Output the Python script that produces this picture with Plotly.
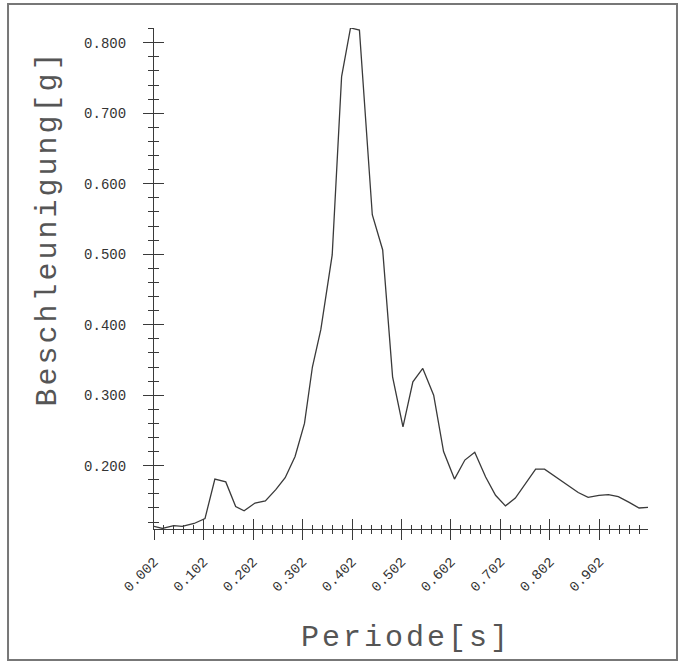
import plotly.graph_objects as go

# Periode [s] and Beschleunigung [g]
periode = [0.002, 0.019, 0.042, 0.059, 0.083, 0.105, 0.125, 0.147, 0.167, 0.184,
           0.206, 0.227, 0.248, 0.267, 0.287, 0.306, 0.322, 0.339, 0.362, 0.381,
           0.399, 0.417, 0.443, 0.464, 0.484, 0.505, 0.525, 0.545, 0.567, 0.587,
           0.609, 0.630, 0.650, 0.672, 0.692, 0.712, 0.732, 0.753, 0.773, 0.791,
           0.812, 0.835, 0.859, 0.879, 0.901, 0.920, 0.940, 0.962, 0.982, 1.000]
beschleunigung = [0.114, 0.111, 0.115, 0.114, 0.118, 0.125, 0.181, 0.177, 0.142, 0.136,
                  0.147, 0.150, 0.166, 0.183, 0.213, 0.260, 0.340, 0.393, 0.499, 0.752,
                  0.821, 0.818, 0.556, 0.506, 0.326, 0.255, 0.319, 0.338, 0.300, 0.220,
                  0.181, 0.208, 0.219, 0.184, 0.158, 0.143, 0.154, 0.175, 0.195, 0.195,
                  0.185, 0.173, 0.162, 0.155, 0.158, 0.159, 0.156, 0.148, 0.140, 0.141]

x_title = "Periode[s]"
y_title = "Beschleunigung[g]"

INK = "#3a3a3a"
MONO = "Liberation Mono, DejaVu Sans Mono, monospace"
X_RANGE = [0.002, 1.0]
Y_RANGE = [0.1102, 0.8209]

fig = go.Figure()
fig.add_trace(go.Scatter(x=periode, y=beschleunigung, mode="lines",
                         line=dict(color=INK, width=1.3), showlegend=False,
                         hoverinfo="x+y"))
# invisible trace so the overlay axes (inner half of the crossing ticks) exist
fig.add_trace(go.Scatter(x=periode[:1], y=beschleunigung[:1], mode="markers",
                         marker=dict(opacity=0), xaxis="x2", yaxis="y2",
                         showlegend=False, hoverinfo="skip"))

axis_common = dict(showgrid=False, zeroline=False, ticklen=10, tickwidth=1.2,
                   tickcolor=INK, automargin=False)

fig.update_layout(
    width=683, height=662,
    plot_bgcolor="white", paper_bgcolor="white",
    margin=dict(l=154, r=35, t=28, b=133, autoexpand=False),
    font=dict(family=MONO, color=INK),
    xaxis=dict(range=X_RANGE, showline=True, linecolor=INK, linewidth=1.2,
               ticks="outside", tick0=0.002, dtick=0.1, tickformat=".3f",
               tickangle=-45, tickfont=dict(size=14, family=MONO, color="#333"),
               ticklabelstandoff=8,
               minor=dict(ticks="outside", tick0=0.002, dtick=0.02, ticklen=4,
                          tickcolor=INK, tickwidth=1),
               **axis_common),
    yaxis=dict(range=Y_RANGE, showline=True, linecolor=INK, linewidth=1.2,
               ticks="outside", tick0=0, dtick=0.1, tickformat=".3f",
               tickfont=dict(size=14, family=MONO, color="#333"),
               ticklabelstandoff=14,
               minor=dict(ticks="outside", tick0=0, dtick=0.02, ticklen=5,
                          tickcolor=INK, tickwidth=1),
               **axis_common),
    xaxis2=dict(range=X_RANGE, overlaying="x", anchor="y2", side="bottom",
                showline=False, showticklabels=False,
                ticks="inside", tick0=0.002, dtick=0.1,
                minor=dict(ticks="inside", tick0=0.002, dtick=0.02, ticklen=4,
                           tickcolor=INK, tickwidth=1),
                **axis_common),
    yaxis2=dict(range=Y_RANGE, overlaying="y", anchor="x2", side="left",
                showline=False, showticklabels=False,
                ticks="inside", tick0=0, dtick=0.1,
                minor=dict(ticks="inside", tick0=0, dtick=0.02, ticklen=5,
                           tickcolor=INK, tickwidth=1),
                **axis_common),
    annotations=[
        dict(text=f"<span style='letter-spacing:3px'>{x_title}</span>",
             xref="paper", yref="paper", x=0.511, y=-0.256,
             showarrow=False, font=dict(size=30, family=MONO, color="#555")),
        dict(text=f"<span style='letter-spacing:3px'>{y_title}</span>",
             xref="paper", yref="paper", x=-0.254, y=0.601, textangle=-90,
             showarrow=False, font=dict(size=30, family=MONO, color="#555")),
    ],
    shapes=[dict(type="rect", xref="paper", yref="paper",
                 x0=-0.2955, x1=1.0587, y0=-0.2615, y1=1.0479,
                 line=dict(color="#777", width=2), layer="below")],
)

fig.write_html("out.html", config={"displayModeBar": False},
               post_script="document.body.style.margin='0';document.body.style.overflow='hidden';")
